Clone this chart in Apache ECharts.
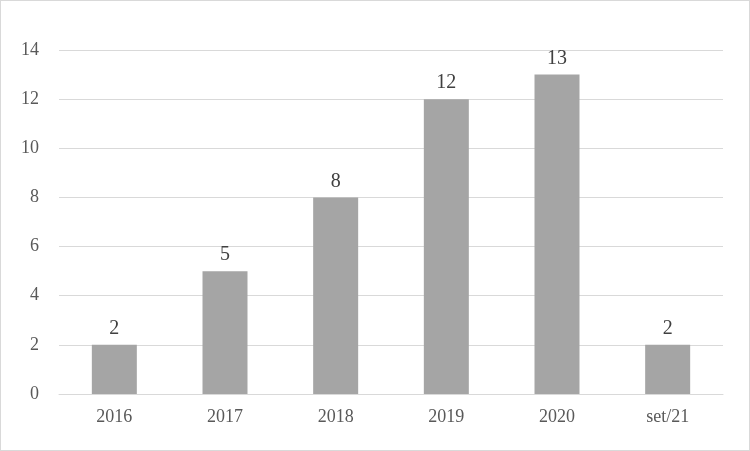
<!DOCTYPE html>
<html>
<head>
<meta charset="utf-8">
<script src="https://cdn.jsdelivr.net/npm/echarts@6/dist/echarts.min.js"></script>
<style>
html,body{margin:0;padding:0;background:#fff;}
#chart{width:748px;height:449px;border:1px solid #d9d9d9;}
</style>
</head>
<body>
<div id="chart"></div>
<script>
var categories = ['2016', '2017', '2018', '2019', '2020', 'set/21'];
var values = [2, 5, 8, 12, 13, 2];

var myChart = echarts.init(document.getElementById('chart'));
var font = '"Liberation Serif", "Times New Roman", serif';
var option = {
    animation: false,
    grid: {left: 58, right: 26, top: 49, bottom: 56},
    xAxis: {
        type: 'category',
        data: categories,
        axisLine: {lineStyle: {color: '#d9d9d9'}},
        axisTick: {show: false},
        axisLabel: {color: '#595959', fontFamily: font, fontSize: 18, margin: 14}
    },
    yAxis: {
        type: 'value',
        min: 0,
        max: 14,
        interval: 2,
        axisLine: {show: false},
        axisTick: {show: false},
        splitLine: {lineStyle: {color: '#d9d9d9'}},
        axisLabel: {color: '#595959', fontFamily: font, fontSize: 18, margin: 20}
    },
    series: [{
        type: 'bar',
        data: values,
        barWidth: 45,
        itemStyle: {color: '#a5a5a5'},
        label: {show: true, position: 'top', color: '#404040', fontFamily: font, fontSize: 20, distance: 6}
    }]
};
myChart.setOption(option);
</script>
</body>
</html>
